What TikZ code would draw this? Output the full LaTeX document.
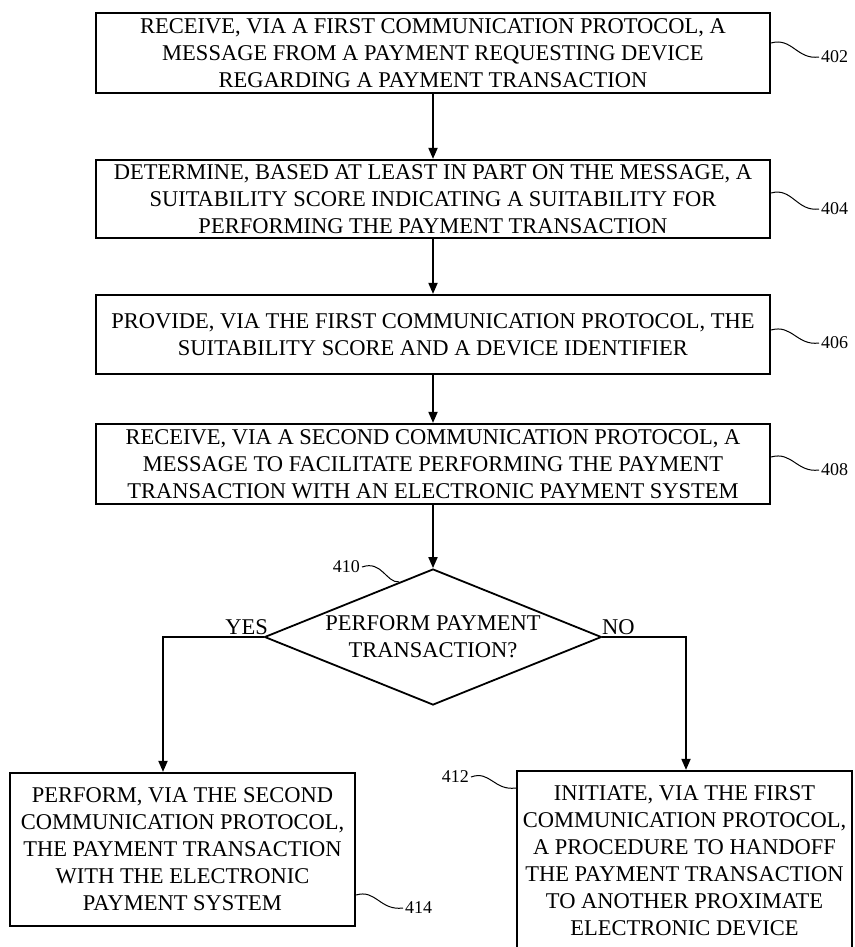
\documentclass[tikz,border=0pt]{standalone}
\usepackage{fontspec}
\setmainfont{Liberation Serif}
\usetikzlibrary{shapes.geometric,arrows.meta,calc}

\tikzset{
    stepbox/.style={draw, line width=2.2pt, align=center, inner sep=0pt,
        font=\fontsize{22.5}{27}\selectfont},
    flowarrow/.style={line width=1.8pt, -{Triangle[length=11pt,width=9pt]}},
    refnum/.style={inner sep=2pt, font=\fontsize{18}{18}\selectfont},
    leader/.style={line width=1pt},
    answer/.style={inner sep=0pt, font=\fontsize{22.5}{27}\selectfont},
}

\begin{document}
\begin{tikzpicture}[x=1pt, y=-1pt]
    \useasboundingbox (0,0) rectangle (854,947);

    \node[stepbox, minimum width=674pt, minimum height=80pt] (s402) at (433,53)
        {RECEIVE, VIA A FIRST COMMUNICATION PROTOCOL, A\\MESSAGE FROM A PAYMENT REQUESTING DEVICE\\REGARDING A PAYMENT TRANSACTION};
    \node[stepbox, minimum width=674pt, minimum height=78pt] (s404) at (433,199)
        {DETERMINE, BASED AT LEAST IN PART ON THE MESSAGE, A\\SUITABILITY SCORE INDICATING A SUITABILITY FOR\\PERFORMING THE PAYMENT TRANSACTION};
    \node[stepbox, minimum width=674pt, minimum height=79pt] (s406) at (433,334.5)
        {PROVIDE, VIA THE FIRST COMMUNICATION PROTOCOL, THE\\SUITABILITY SCORE AND A DEVICE IDENTIFIER};
    \node[stepbox, minimum width=674pt, minimum height=80pt] (s408) at (433,464)
        {RECEIVE, VIA A SECOND COMMUNICATION PROTOCOL, A\\MESSAGE TO FACILITATE PERFORMING THE PAYMENT\\TRANSACTION WITH AN ELECTRONIC PAYMENT SYSTEM};

    \node[diamond, draw, line width=1.8pt, inner sep=0pt, minimum width=337pt, minimum height=136pt] (d410) at (433,637) {};
    \node[answer, align=center] (q410) at (433,636.5) {PERFORM PAYMENT\\TRANSACTION?};

    \node[stepbox, minimum width=345pt, minimum height=153pt] (s414) at (182.5,849.5)
        {PERFORM, VIA THE SECOND\\COMMUNICATION PROTOCOL,\\THE PAYMENT TRANSACTION\\WITH THE ELECTRONIC\\PAYMENT SYSTEM};
    \node[stepbox, minimum width=335pt, minimum height=179pt] (s412) at (684.5,860.5)
        {INITIATE, VIA THE FIRST\\COMMUNICATION PROTOCOL,\\A PROCEDURE TO HANDOFF\\THE PAYMENT TRANSACTION\\TO ANOTHER PROXIMATE\\ELECTRONIC DEVICE};

    % flow
    \draw[flowarrow] (s402) -- (s404);
    \draw[flowarrow] (s404) -- (s406);
    \draw[flowarrow] (s406) -- (s408);
    \draw[flowarrow] (s408) -- (d410);

    \coordinate (yesdrop) at (163,637);
    \draw[flowarrow] (d410.west) -- (yesdrop) -- (yesdrop |- s414.north);
    \coordinate (nodrop) at (686,637);
    \draw[flowarrow] (d410.east) -- (nodrop) -- (nodrop |- s412.north);

    \node[answer, anchor=base east] (yes) at (268,634) {YES};
    \node[answer, anchor=base west] (no) at (602,634) {NO};

    % reference numerals
    \node[refnum, anchor=west] (r402) at (819,57) {402};
    \node[refnum, anchor=west] (r404) at (819,209) {404};
    \node[refnum, anchor=west] (r406) at (819,343) {406};
    \node[refnum, anchor=west] (r408) at (819,470) {408};
    \node[refnum, anchor=east] (r410) at (362,567) {410};
    \node[refnum, anchor=east] (r412) at (471,777) {412};
    \node[refnum, anchor=west] (r414) at (403,908) {414};

    \draw[leader] (s402.east |- 0,43) .. controls (792,37) and (797,60) .. (r402.west);
    \draw[leader] (s404.east |- 0,193) .. controls (792,187) and (797,212) .. (r404.west);
    \draw[leader] (s406.east |- 0,330) .. controls (792,324) and (797,346) .. (r406.west);
    \draw[leader] (s408.east |- 0,457) .. controls (792,451) and (797,473) .. (r408.west);
    \draw[leader] (r410.east) .. controls (382,560) and (386,583) .. ($(d410.north)!0.2!(d410.west)$);
    \draw[leader] (r412.east) .. controls (490,770) and (494,791) .. (s412.west |- 0,788);
    \draw[leader] (s414.east |- 0,895) .. controls (376,889) and (380,911) .. (r414.west);
\end{tikzpicture}
\end{document}
